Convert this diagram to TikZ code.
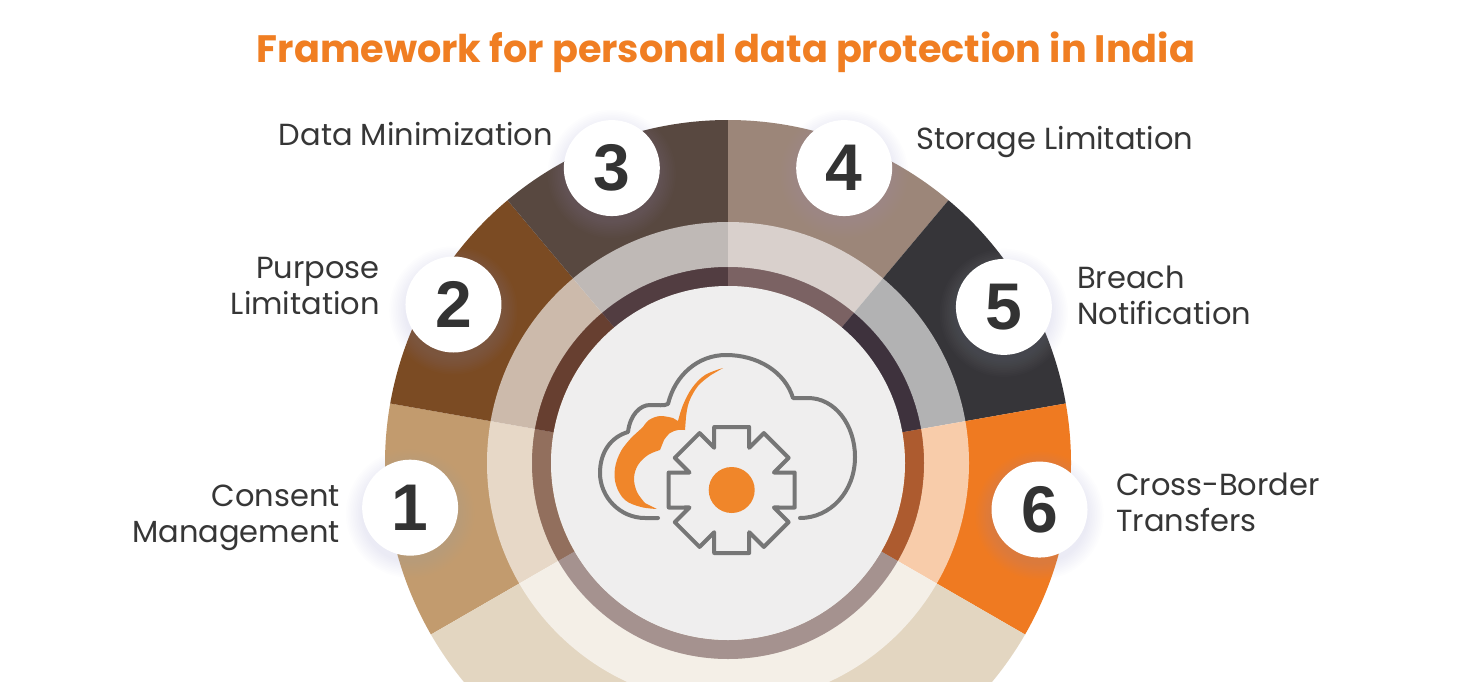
\documentclass[tikz,border=0pt]{standalone}
\usepackage{fontspec}
\setmainfont{Poppins}
\newfontfamily\numfont{Liberation Sans}
\usetikzlibrary{calc}
\definecolor{segA}{HTML}{C29B6E}
\definecolor{segB}{HTML}{7B4B23}
\definecolor{segC}{HTML}{584840}
\definecolor{segD}{HTML}{9C8679}
\definecolor{segE}{HTML}{363539}
\definecolor{segF}{HTML}{EF7A21}
\definecolor{segG}{HTML}{E3D6C1}
\definecolor{discgray}{HTML}{EFEEEE}
\definecolor{ringdark}{HTML}{4A2E44}
\definecolor{glow}{HTML}{A4A8CC}
\definecolor{ttlorange}{HTML}{F07E22}
\definecolor{iconorange}{HTML}{F0862A}
\definecolor{icongray}{HTML}{767676}
\definecolor{txtgray}{HTML}{363636}
\definecolor{numgray}{HTML}{333333}

\begin{document}
\begin{tikzpicture}[x=1pt,y=-1pt,
        lbl/.style={text=txtgray, inner sep=0pt,
                        font=\fontsize{30.5}{36}\selectfont},
        num/.style={circle, fill=white, inner sep=0pt, minimum size=96pt,
                        text=numgray, font=\numfont\bfseries\fontsize{66}{66}\selectfont},
        iconline/.style={draw=icongray, line width=4pt, line join=round}]
    \fill[white] (0,0) rectangle (1457,681);
    \clip (0,0) rectangle (1457,681);
    \coordinate (C) at (728,463);
    \foreach \c/\a in {segA/-170, segB/-130, segC/-90, segD/-50, segE/-10, segF/30}
        \fill[\c] (C) -- ++(\a:343) arc[start angle=\a, end angle=\a-40, radius=343] -- cycle;
    \fill[segG] (C) -- ++(-210:343) arc[start angle=-210, end angle=-330, radius=343] -- cycle;
    \fill[white, opacity=.62, even odd rule] (C) circle (241) (C) circle (196);
    \fill[ringdark, opacity=.4, even odd rule] (C) circle (196) (C) circle (177);
    \fill[discgray] (C) circle (177);

    \foreach \n/\a/\r in {1/-188/321, 2/-150/317, 3/-111.5/317,
                          4/-68.5/317, 5/-29.5/317, 6/8.5/315} {
        \foreach \i in {1,...,10}
            \fill[glow, opacity=.018] ($(C)+(\a:\r)+(0,6)$) circle (47+1.7*\i);
        \node[num] (n\n) at ($(C)+(\a:\r)$) {\n};
    }

    \node[font=\bfseries\fontsize{38.2}{46}\selectfont, text=ttlorange, inner sep=0pt,
          anchor=base] (ttl) at (726,62) {Framework for personal data protection in India};
    \node[lbl, anchor=base east] (dm) at (553,145) {Data Minimization};
    \node[lbl, anchor=base west] (sl) at (916,149) {Storage Limitation};
    \node[lbl, anchor=base east, align=right] (pl) at (380,314) {Purpose\\Limitation};
    \node[lbl, anchor=base west, align=left] (bn) at (1077,324) {Breach\\Notification};
    \node[lbl, anchor=base east, align=right] (cm) at (340,542) {Consent\\Management};
    \node[lbl, anchor=base west, align=left] (cb) at (1116,531) {Cross-Border\\Transfers};

    \draw[iconline, line cap=round] (658,518) -- (645,518)
        .. controls (620,518) and (600,497) .. (600,473)
        .. controls (600,452) and (611,437) .. (628,432)
        .. controls (630,415) and (640,405) .. (650,405)
        .. controls (658,405) and (664,406) .. (668,404)
        .. controls (675,375) and (698,355) .. (726,355)
        .. controls (758,355) and (785,372) .. (793,398)
        -- (808,398)
        .. controls (835,398) and (855,425) .. (855,457)
        .. controls (855,492) and (830,518) .. (800,518);
    \fill[iconorange] plot[smooth, tension=.6] coordinates {(723,368) (705,375) (692,388)
            (683,405) (678,421)}
        -- plot[smooth, tension=.6] coordinates {(673,418) (660,416) (649,420) (643,427)}
        -- plot[smooth, tension=.6] coordinates {(632,437) (621,451) (615,468) (616,485)
            (625,500) (641,507) (657,509)}
        -- plot[smooth, tension=.6] coordinates {(645,503) (637,492) (634,478) (638,465)
            (648,455) (660,450)}
        -- plot[smooth, tension=.6] coordinates {(664,440) (670,433) (678,430) (685,430)}
        -- plot[smooth, tension=.6] coordinates {(686,417) (689,402) (698,386) (711,375)}
        -- cycle;
    \coordinate (G) at (731.7,490);
    \draw[iconline, fill=discgray] ($(G)+(-22.5:45.7)$)
        \foreach \t in {0,45,...,315} { -- ($(G)+(\t:63)+(\t-90:17.5)$)
            -- ($(G)+(\t:63)+(\t+90:17.5)$) -- ($(G)+(\t+22.5:45.7)$) } -- cycle;
    \fill[iconorange] (G) circle (23);
\end{tikzpicture}
\end{document}
